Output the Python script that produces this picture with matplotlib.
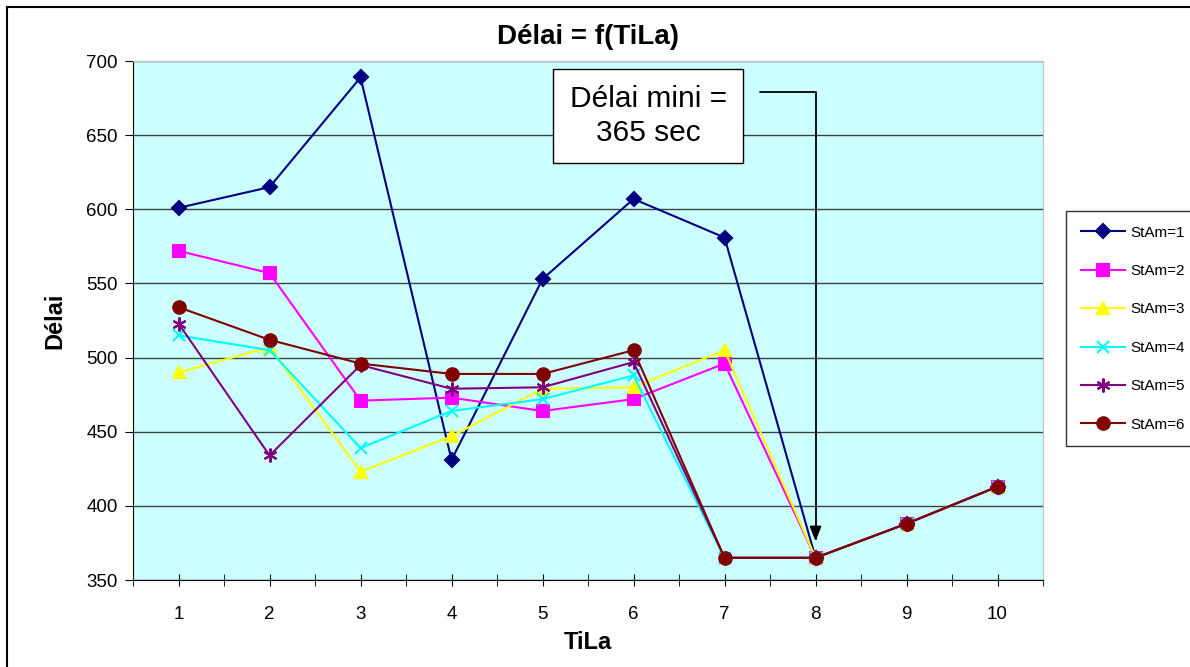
import matplotlib.pyplot as plt
from matplotlib.patches import Rectangle

plt.rcParams['font.family'] = ['Liberation Sans', 'DejaVu Sans']

tila = [1, 2, 3, 4, 5, 6, 7, 8, 9, 10]
stam1 = [601, 615, 689, 431, 553, 607, 581, 365, 388, 413]
stam2 = [572, 557, 471, 473, 464, 472, 496, 365, 388, 413]
stam3 = [490, 507, 423, 447, 479, 480, 505, 365, 388, 413]
stam4 = [515, 505, 439, 464, 472, 488, 365, 365, 388, 413]
stam5 = [523, 434, 495, 479, 480, 497, 365, 365, 388, 413]
stam6 = [534, 512, 496, 489, 489, 505, 365, 365, 388, 413]
noms = ["StAm=1", "StAm=2", "StAm=3", "StAm=4", "StAm=5", "StAm=6"]

series = [stam1, stam2, stam3, stam4, stam5, stam6]
couleurs = ["#000080", "#FF00FF", "#FFFF00", "#00FFFF", "#800080", "#800000"]
marqueurs = ["D", "s", "^", "x", (6, 2, 0), "o"]
tailles = [7, 9, 9, 9, 10, 9]

fig = plt.figure(figsize=(11.9, 6.67), dpi=100)
ax = fig.add_axes([0.1118, 0.1304, 0.7647, 0.778])
ax.set_facecolor("#CCFFFF")

for y, c, m, s, nom in zip(series, couleurs, marqueurs, tailles, noms):
    ax.plot(tila, y, color=c, marker=m, markersize=s, linewidth=1.5,
            markeredgewidth=1.5, label=nom)

ax.set_xlim(0.5, 10.5)
ax.set_ylim(350, 700)
ax.set_yticks(range(350, 701, 50))
ax.set_xticks(tila)
ax.set_xticks([i + 0.5 for i in range(0, 11)], minor=True)
ax.tick_params(axis="x", which="both", length=9, direction="inout", labelsize=13.5, pad=14)
ax.tick_params(axis="y", length=6, direction="out", labelsize=13.5, pad=5)
ax.grid(axis="y", color="#404040", linewidth=1)
ax.set_axisbelow(True)
for s in ["top", "right"]:
    ax.spines[s].set_color("#c0c0c0")

ax.set_title("Délai = f(TiLa)", fontsize=20, fontweight="bold", pad=12)
ax.set_xlabel("TiLa", fontsize=17, fontweight="bold", labelpad=6)
ax.set_ylabel("Délai", fontsize=17, fontweight="bold", labelpad=14)

# boite d'annotation
ax.text(6.16, 663, "Délai mini =\n365 sec", fontsize=21.5, ha="center", va="center",
        linespacing=1.25,
        bbox=dict(boxstyle="square,pad=0.55", facecolor="white", edgecolor="black", linewidth=1))
ax.annotate("", xy=(8, 376), xytext=(7.39, 679),
            arrowprops=dict(arrowstyle="-|>,head_length=0.9,head_width=0.35", color="black",
                            linewidth=1.3, shrinkA=0, shrinkB=0,
                            connectionstyle="angle,angleA=0,angleB=90,rad=0"))

fig.legend(loc="upper left", bbox_to_anchor=(1066 / 1190, 1 - 211 / 667), borderaxespad=0,
           fontsize=11, frameon=True, fancybox=False, edgecolor="black",
           borderpad=0.95, labelspacing=1.6, handlelength=2.9, handletextpad=0.35)

fig.patches.append(Rectangle((7 / 1190, -0.1), 1.2, 1.1 - 7 / 667, transform=fig.transFigure,
                             fill=False, edgecolor="black", linewidth=1.5))

fig.savefig("out.png", dpi=100)
